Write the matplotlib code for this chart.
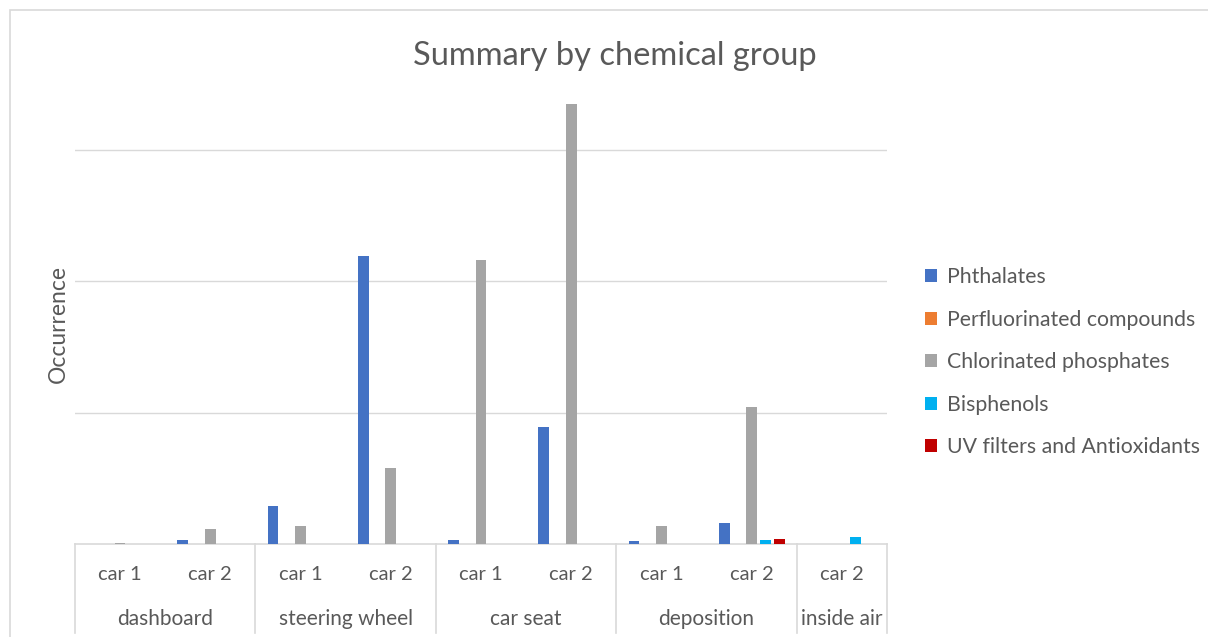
import numpy as np
import matplotlib
matplotlib.use('Agg')
import matplotlib.pyplot as plt
import matplotlib.patches as patches
from matplotlib.lines import Line2D

matplotlib.rcParams['font.family'] = ['Lato', 'DejaVu Sans']

# categories: (sample, car) pairs on a two-level axis
cars = ['car 1', 'car 2', 'car 1', 'car 2', 'car 1', 'car 2', 'car 1', 'car 2', 'car 2']
groups = ['dashboard', 'steering wheel', 'car seat', 'deposition', 'inside air']
group_sizes = [2, 2, 2, 2, 1]

series_names = ['Phthalates', 'Perfluorinated compounds', 'Chlorinated phosphates',
                'Bisphenols', 'UV filters and Antioxidants']
phthalates = [0.0, 0.33, 2.9, 21.9, 0.3, 8.9, 0.23, 1.57, 0.0]
perfluorinated = [0.0, 0.0, 0.0, 0.0, 0.0, 0.0, 0.0, 0.0, 0.0]
chlorinated = [0.08, 1.14, 1.36, 5.8, 21.6, 33.5, 1.39, 10.4, 0.0]
bisphenols = [0.0, 0.0, 0.0, 0.0, 0.0, 0.0, 0.0, 0.3, 0.55]
uv_filters = [0.0, 0.0, 0.0, 0.0, 0.0, 0.0, 0.0, 0.4, 0.0]

colors = ['#4472C4', '#ED7D31', '#A5A5A5', '#00B0F0', '#C00000']
TXT = '#595959'
GRID = '#D9D9D9'

W, H = 1208, 637
fig = plt.figure(figsize=(W / 100, H / 100), dpi=100)

# chart frame
fig.patches.append(patches.Rectangle(
    (10 / W, -0.05), 1.2, 1 - 10 / H + 0.05, transform=fig.transFigure,
    facecolor='none', edgecolor=GRID, linewidth=1.2, zorder=0))

ax = fig.add_axes([75 / W, (H - 544) / H, 812 / W, 460 / H])

x = np.arange(len(cars))
all_series = [phthalates, perfluorinated, chlorinated, bisphenols, uv_filters]
step = 0.1525
bw = 0.119
for i, (vals, name, c) in enumerate(zip(all_series, series_names, colors)):
    ax.bar(x + (i - 2) * step, vals, width=bw, color=c, label=name, zorder=3)

ax.set_xlim(-0.5, len(cars) - 0.5)
ax.set_ylim(0, 35)
ax.set_yticks([10, 20, 30])
ax.set_yticklabels([])
ax.tick_params(axis='y', length=0)
ax.grid(axis='y', color=GRID, linewidth=1.0, zorder=0)
for s in ['top', 'right', 'left']:
    ax.spines[s].set_visible(False)
ax.spines['bottom'].set_color(GRID)
ax.spines['bottom'].set_linewidth(1.2)

ax.set_xticks(x)
ax.set_xticklabels(cars, fontsize=14.5, color=TXT)
ax.tick_params(axis='x', length=0, pad=16)

# second level of category axis
trans = ax.get_xaxis_transform()
bottom = (544 - 633) / 460
edges = np.concatenate([[0], np.cumsum(group_sizes)]) - 0.5
for e in edges:
    ax.add_line(Line2D([e, e], [0, bottom], transform=trans, color=GRID,
                       linewidth=1.2, clip_on=False))
for g, lo, hi in zip(groups, edges[:-1], edges[1:]):
    ax.text((lo + hi) / 2, (544 - 619) / 460, g, transform=trans,
            ha='center', va='center', fontsize=15, color=TXT)

fig.text(58 / W, 1 - 324 / H, 'Occurrence', rotation=90, ha='center',
         va='center', fontsize=16.5, color=TXT)

fig.text(615 / W, 1 - 56 / H, 'Summary by chemical group', ha='center',
         va='center', fontsize=23.5, color=TXT)

leg = fig.legend(loc='upper left', bbox_to_anchor=(906 / W, 1 - 248 / H),
                 frameon=False, fontsize=15.3, labelcolor=TXT,
                 handlelength=0.56, handleheight=0.56, handletextpad=0.47,
                 labelspacing=1.06)

fig.savefig('out.png', dpi=100, facecolor='white')
